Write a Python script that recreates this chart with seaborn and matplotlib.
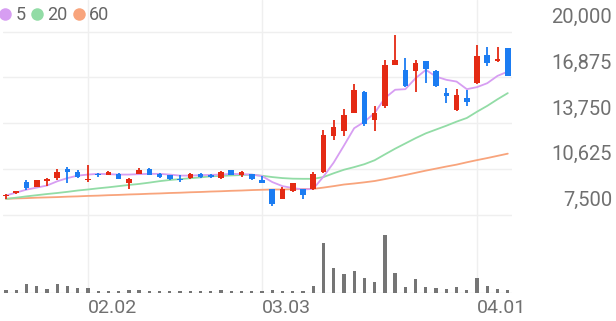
import numpy as np
import pandas as pd
import matplotlib
matplotlib.use("Agg")
import matplotlib.pyplot as plt
import seaborn as sns
from matplotlib.lines import Line2D
from matplotlib import transforms

# ---------------- data ----------------
dates = ["01.21", "01.22", "01.23", "01.26", "01.27", "01.28", "01.29", "01.30",
         "02.02", "02.03", "02.04", "02.05", "02.06", "02.09", "02.10", "02.11",
         "02.12", "02.13", "02.19", "02.20", "02.23", "02.24", "02.25", "02.26",
         "02.27", "03.03", "03.04", "03.05", "03.06", "03.09", "03.10", "03.11",
         "03.12", "03.13", "03.16", "03.17", "03.18", "03.19", "03.20", "03.23",
         "03.24", "03.25", "03.26", "03.27", "03.30", "03.31", "04.01", "04.02",
         "04.03", "04.06"]

open_ = [8740, 8940, 9710, 9370, 9780, 9990, 10600, 10380, 9830, 10290,
         10190, 10260, 9670, 10240, 10580, 10290, 10190, 9950, 10010, 10260,
         10170, 9990, 10510, 10220, 10260, 9890, 9210, 8590, 9090, 9210,
         9210, 10390, 12840, 13180, 14440, 15910, 13930, 14930, 17730, 17390,
         17340, 18000, 17340, 15800, 14660, 15500, 16480, 18410, 18000, 18870]
high = [8870, 9140, 9880, 9880, 9970, 10630, 10740, 10510, 10860, 10330,
        10450, 10310, 9970, 10700, 10650, 10310, 10200, 10220, 10330, 10310,
        10260, 10450, 10540, 10450, 10290, 10150, 9270, 9390, 9680, 9240,
        10390, 13300, 13980, 14710, 16430, 15960, 14890, 18070, 19780, 18190,
        18070, 18030, 17390, 16140, 16070, 15980, 19090, 18940, 18980, 18890]
low = [8530, 8870, 9190, 9350, 9440, 9830, 9640, 10000, 9710, 10060,
       10170, 9900, 9260, 10240, 10170, 10000, 9880, 9690, 9900, 9970,
       9970, 9900, 10170, 10060, 9830, 9640, 8110, 8570, 9070, 8570,
       9200, 10340, 12570, 12890, 14420, 13570, 13230, 14780, 17730, 16210,
       15910, 16520, 16210, 15120, 14550, 14930, 16430, 17660, 17910, 16980]
close = [8850, 9075, 9330, 9830, 9920, 10380, 10430, 10040, 9930, 10170,
         10400, 9950, 9950, 10510, 10220, 10040, 9900, 9830, 10290, 10040,
         10040, 10400, 10190, 10380, 9920, 9660, 8250, 9270, 9660, 8860,
         10300, 12910, 13500, 14320, 16030, 13710, 14440, 17730, 18070, 16300,
         17850, 17460, 16300, 15570, 15680, 15190, 18340, 17850, 18140, 16980]

ma5 = [8800, 9000, 9200, 9340, 9480, 9770, 9990, 10160, 10230, 10280,
       10260, 10230, 10230, 10260, 10280, 10280, 10230, 10160, 10160, 10190,
       10210, 10230, 10280, 10260, 10230, 10130, 9720, 9440, 9310, 9210,
       9250, 10090, 11050, 12210, 13400, 13840, 14440, 15460, 16030, 16070,
       16820, 17390, 16930, 16710, 16590, 16070, 16210, 16480, 16980, 17270]
ma20 = [8570, 8650, 8740, 8820, 8900, 8970, 9050, 9140, 9210, 9290,
        9360, 9440, 9520, 9590, 9680, 9780, 9860, 9920, 9980, 10040,
        10110, 10140, 10170, 10200, 10220, 10150, 10060, 9990, 9950, 9940,
        9940, 10060, 10320, 10560, 10740, 10940, 11210, 11610, 12000, 12360,
        12720, 13050, 13310, 13570, 13850, 14100, 14530, 14930, 15380, 15800]
ma60 = [8570, 8600, 8620, 8650, 8670, 8690, 8720, 8740, 8770, 8790,
        8820, 8840, 8870, 8890, 8920, 8940, 8970, 8990, 9020, 9040,
        9070, 9090, 9120, 9140, 9170, 9190, 9210, 9210, 9230, 9240,
        9250, 9340, 9440, 9550, 9620, 9700, 9790, 9920, 10060, 10200,
        10350, 10500, 10640, 10780, 10910, 11070, 11220, 11360, 11510, 11660]

volume_k = [66, 54, 180, 146, 86, 186, 146, 94, 100, 46,
            46, 46, 54, 66, 40, 40, 40, 46, 46, 40,
            34, 60, 46, 46, 46, 46, 60, 40, 34, 40,
            146, 1000, 500, 386, 440, 294, 220, 1154, 400, 120,
            280, 120, 94, 86, 120, 60, 306, 146, 86, 66]

price_ticks = [7500, 10625, 13750, 16875, 20000]
tick_dates = ["02.02", "03.03", "04.01"]
ma_labels = ["5", "20", "60"]

# ---------------- style ----------------
RED = "#e42a14"
BLUE = "#1b7cf2"
C5, C20, C60 = "#d79ef2", "#92dca6", "#f8a47c"
GRID = "#efefef"
TXT = "#707070"

sns.set_theme(style="white")
plt.rcParams["font.family"] = ["Roboto", "DejaVu Sans"]

W, H = 616, 321
fig = plt.figure(figsize=(W / 100, H / 100), dpi=100)

px_per_idx = 10.24
x0_px = 6.0
ax_left, ax_right = 3.0, 512.0
y20k, y7k = 31.7, 214.5
k = (20000 - 7500) / (y7k - y20k)  # price per px
price_bottom_px = 217.0
vol_bottom_px = 293.0

ax = fig.add_axes([ax_left / W, (H - price_bottom_px) / H,
                   (ax_right - ax_left) / W, price_bottom_px / H])
axv = fig.add_axes([ax_left / W, (H - vol_bottom_px) / H,
                    (ax_right - ax_left) / W, (vol_bottom_px - price_bottom_px) / H],
                   sharex=ax)

idx = np.arange(len(dates))
df = pd.DataFrame({"idx": idx, "open": open_, "high": high, "low": low,
                   "close": close, "ma5": ma5, "ma20": ma20, "ma60": ma60,
                   "vol": volume_k})
up = df["close"] >= df["open"]
colors = np.where(up, RED, BLUE)

# moving averages
for col, c in [("ma60", C60), ("ma20", C20), ("ma5", C5)]:
    sns.lineplot(data=df, x="idx", y=col, color=c, lw=1.3, ax=ax, zorder=2)

# candles
ax.vlines(df["idx"], df["low"], df["high"], colors=colors, lw=1.3, zorder=3)
body_bottom = np.minimum(df["open"], df["close"])
body_h = np.maximum(np.abs(df["close"] - df["open"]), 90)
ax.bar(df["idx"], body_h, bottom=body_bottom, width=0.55, color=colors,
       linewidth=0, zorder=4)

# volume
sns.barplot(data=df, x="idx", y="vol", native_scale=True, width=0.32,
            color="#757575", saturation=1, errorbar=None, linewidth=0, ax=axv)
axv.axhline(0, color="#e6e6e6", lw=1, zorder=0)

# limits
xl = (ax_left - x0_px) / px_per_idx
xr = (ax_right - x0_px) / px_per_idx
ax.set_xlim(xl, xr)
ax.set_ylim(7500 - (price_bottom_px - y7k) * k, 20000 + y20k * k)
axv.set_ylim(0, (vol_bottom_px - price_bottom_px) * 20)

tick_pos = [dates.index(d) for d in tick_dates]
for a in (ax, axv):
    for s in a.spines.values():
        s.set_visible(False)
    a.set_xlabel("")
    a.set_ylabel("")
    a.set_xticks(tick_pos)
    a.grid(axis="x", color=GRID, lw=1)
    a.set_axisbelow(True)
ax.set_yticks(price_ticks)
ax.grid(axis="y", color=GRID, lw=1)
ax.tick_params(left=False, labelleft=False, bottom=False, labelbottom=False)
axv.set_yticks([])
axv.set_xticks(tick_pos)
axv.set_xticklabels(tick_dates)
axv.tick_params(axis="x", length=0, pad=4, labelsize=14, labelcolor=TXT)
plt.setp(axv.get_xticklabels(), ha="left")

# right price labels (slightly above their grid lines)
trans = transforms.blended_transform_factory(fig.transFigure, ax.transData) + \
    transforms.ScaledTranslation(0, 14 / 100, fig.dpi_scale_trans)
for v in price_ticks:
    ax.text(612 / W, v, f"{v:,}", transform=trans, ha="right", va="center",
            fontsize=14.5, color=TXT)

# legend
handles = [Line2D([0], [0], marker="o", ls="", markersize=9, color=c,
                  markeredgewidth=0) for c in (C5, C20, C60)]
ax.legend(handles, ma_labels, loc="center left",
          bbox_to_anchor=(0, (H - 15) / H), bbox_transform=fig.transFigure,
          ncol=3, frameon=False, handlelength=0.6, handletextpad=0.25,
          columnspacing=0.35, borderaxespad=0, borderpad=0, fontsize=13,
          labelcolor="#666666")

fig.savefig("out.png", dpi=100)
